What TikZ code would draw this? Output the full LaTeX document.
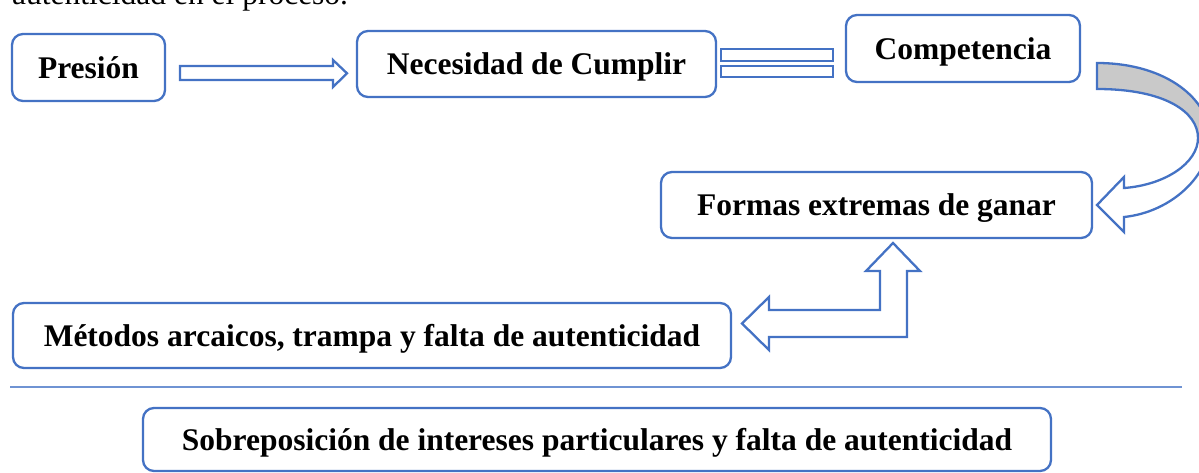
\documentclass[tikz,border=0pt]{standalone}
\usepackage{fontspec}
\setmainfont{Liberation Serif}
\definecolor{boxblue}{HTML}{4472C4}
\definecolor{lineblue}{HTML}{6F93D3}
\definecolor{bandgrey}{HTML}{C9C9C9}
\newcommand{\boxfont}{\fontsize{31.5}{38}\selectfont\bfseries}
\tikzset{
  flowbox/.style={draw=boxblue, line width=2.3pt, rounded corners=11pt, inner sep=0pt,
    text height=21pt, text depth=0pt, font=\boxfont, fill=white},
  blockarrow/.style={draw=boxblue, line width=2.3pt, line join=miter, fill=white},
}
\begin{document}
\begin{tikzpicture}[x=1pt,y=-1pt]
\useasboundingbox (0,0) rectangle (1199,472);
\clip (0,0) rectangle (1199,472);
% cut-off text above
\node[anchor=base west, inner sep=0pt, font=\fontsize{31.5}{38}\selectfont] (prev) at (12,4) {autenticidad en el proceso.};
% boxes
\node[flowbox, minimum width=153pt, minimum height=67pt] (pres) at (88.5,67.5) {Presión};
\node[flowbox, minimum width=359pt, minimum height=66pt] (nec) at (536.5,64) {Necesidad de Cumplir};
\node[flowbox, minimum width=234pt, minimum height=67pt] (comp) at (963,48.5) {Competencia};
\node[flowbox, minimum width=431pt, minimum height=66pt] (formas) at (876.5,205) {Formas extremas de ganar};
\node[flowbox, minimum width=718pt, minimum height=65pt] (metodos) at (372,335.5) {Métodos arcaicos, trampa y falta de autenticidad};
\node[flowbox, minimum width=908pt, minimum height=63pt] (sobre) at (597,439.5) {Sobreposición de intereses particulares y falta de autenticidad};
% arrow Presion -> Necesidad
\draw[blockarrow] (180,66) -- (333,66) -- (333,60) -- (347,73.3) -- (333,87) -- (333,80) -- (180,80) -- cycle;
% equals sign
\draw[blockarrow] (721,49) rectangle (833,61);
\draw[blockarrow] (721,66) rectangle (833,77);
% curved arrow Competencia -> Formas
\fill[bandgrey] (1097,63) .. controls (1167,63) and (1210,100) .. (1210,138) -- (1198,138)
  .. controls (1198,112) and (1165,89) .. (1097,89) -- cycle;
\fill[white] (1210,138) .. controls (1210,175) and (1172,212) .. (1124,217) -- (1124,232) -- (1097,205)
  -- (1124,177) -- (1124,188) .. controls (1165,185) and (1198,163) .. (1198,138) -- cycle;
\draw[draw=boxblue, line width=2.3pt, line join=miter]
  (1097,63) .. controls (1167,63) and (1210,100) .. (1210,138)
  .. controls (1210,175) and (1172,212) .. (1124,217) -- (1124,232) -- (1097,205)
  -- (1124,177) -- (1124,188) .. controls (1165,185) and (1198,163) .. (1198,138)
  .. controls (1198,112) and (1165,89) .. (1097,89) -- cycle;
% bent arrow Metodos <-> Formas
\draw[blockarrow] (893,243) -- (920,271) -- (907,271) -- (907,337) -- (769,337) -- (769,350)
  -- (742,323.5) -- (769,297) -- (769,310) -- (880,310) -- (880,271) -- (866,271) -- cycle;
% separator
\coordinate (sepL) at (10,387);
\coordinate (sepR) at (1182,387);
\draw[lineblue, line width=1.4pt] (sepL) -- (sepR);
\end{tikzpicture}
\end{document}
